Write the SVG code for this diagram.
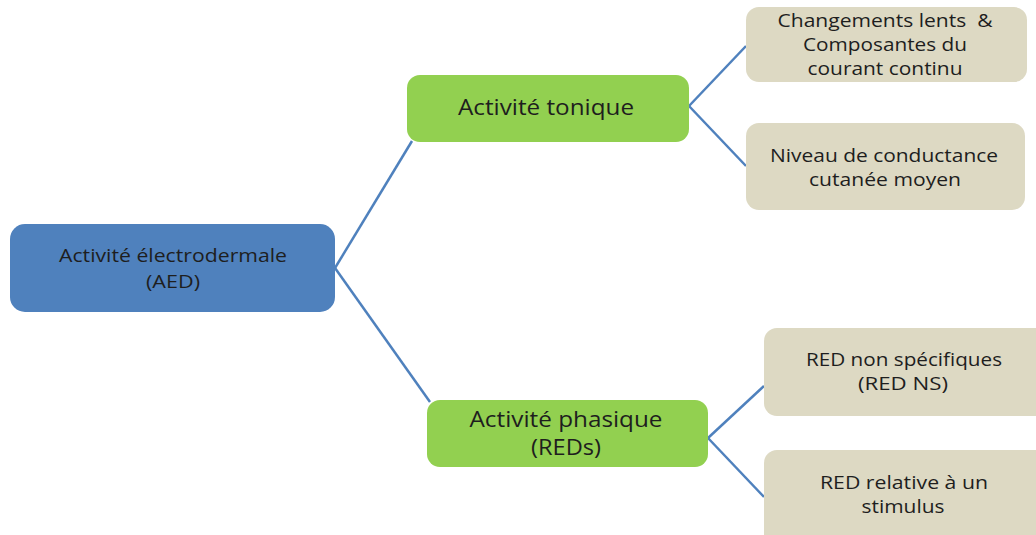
<svg xmlns="http://www.w3.org/2000/svg" width="1036" height="535" viewBox="0 0 1036 535">
<style>
text{font-family:"Open Sans","DejaVu Sans",sans-serif;fill:#1e1e1e;text-anchor:middle}
.s{font-size:18px}
.m{font-size:21px}
.beige{fill:#ddd9c3}
.green{fill:#92d050}
.blue{fill:#4f81bd}
.c{stroke:#4f81bd;stroke-width:2.5;fill:none}
</style>
<rect width="1036" height="535" fill="#ffffff"/>
<g id="connectors">
<line class="c" x1="335" y1="268" x2="412" y2="141"/>
<line class="c" x1="335" y1="268" x2="430" y2="402"/>
<line class="c" x1="689" y1="106" x2="746" y2="46"/>
<line class="c" x1="689" y1="106" x2="746" y2="166"/>
<line class="c" x1="708" y1="438" x2="764" y2="386"/>
<line class="c" x1="708" y1="438" x2="764" y2="497"/>
</g>
<g id="aed">
<rect class="blue" x="10" y="224" width="325" height="88" rx="15"/>
<text class="s" x="173" y="262" textLength="228" lengthAdjust="spacingAndGlyphs">Activité électrodermale</text>
<text class="s" x="173" y="288" textLength="54" lengthAdjust="spacingAndGlyphs">(AED)</text>
</g>
<g id="tonique">
<rect class="green" x="407" y="75" width="282" height="67" rx="13"/>
<text class="m" x="546" y="115" textLength="176" lengthAdjust="spacingAndGlyphs">Activité tonique</text>
</g>
<g id="phasique">
<rect class="green" x="427" y="400" width="281" height="67" rx="13"/>
<text class="m" x="566" y="427" textLength="193" lengthAdjust="spacingAndGlyphs">Activité phasique</text>
<text class="m" x="566" y="455" textLength="70" lengthAdjust="spacingAndGlyphs">(REDs)</text>
</g>
<g id="changements">
<rect class="beige" x="746" y="7" width="281" height="75" rx="13"/>
<text class="s" x="885" y="27" textLength="215" lengthAdjust="spacingAndGlyphs">Changements lents &#160;&amp;</text>
<text class="s" x="885" y="51" textLength="164" lengthAdjust="spacingAndGlyphs">Composantes du</text>
<text class="s" x="885" y="75" textLength="155" lengthAdjust="spacingAndGlyphs">courant continu</text>
</g>
<g id="niveau">
<rect class="beige" x="746" y="123" width="279" height="87" rx="13"/>
<text class="s" x="884" y="162" textLength="228" lengthAdjust="spacingAndGlyphs">Niveau de conductance</text>
<text class="s" x="885" y="186" textLength="152" lengthAdjust="spacingAndGlyphs">cutanée moyen</text>
</g>
<g id="redns">
<rect class="beige" x="764" y="328" width="285" height="88" rx="13"/>
<text class="s" x="904" y="366" textLength="196" lengthAdjust="spacingAndGlyphs">RED non spécifiques</text>
<text class="s" x="903" y="390" textLength="90" lengthAdjust="spacingAndGlyphs">(RED NS)</text>
</g>
<g id="redstim">
<rect class="beige" x="764" y="450" width="285" height="100" rx="13"/>
<text class="s" x="904" y="489" textLength="168" lengthAdjust="spacingAndGlyphs">RED relative à un</text>
<text class="s" x="903" y="513" textLength="83" lengthAdjust="spacingAndGlyphs">stimulus</text>
</g>
</svg>
